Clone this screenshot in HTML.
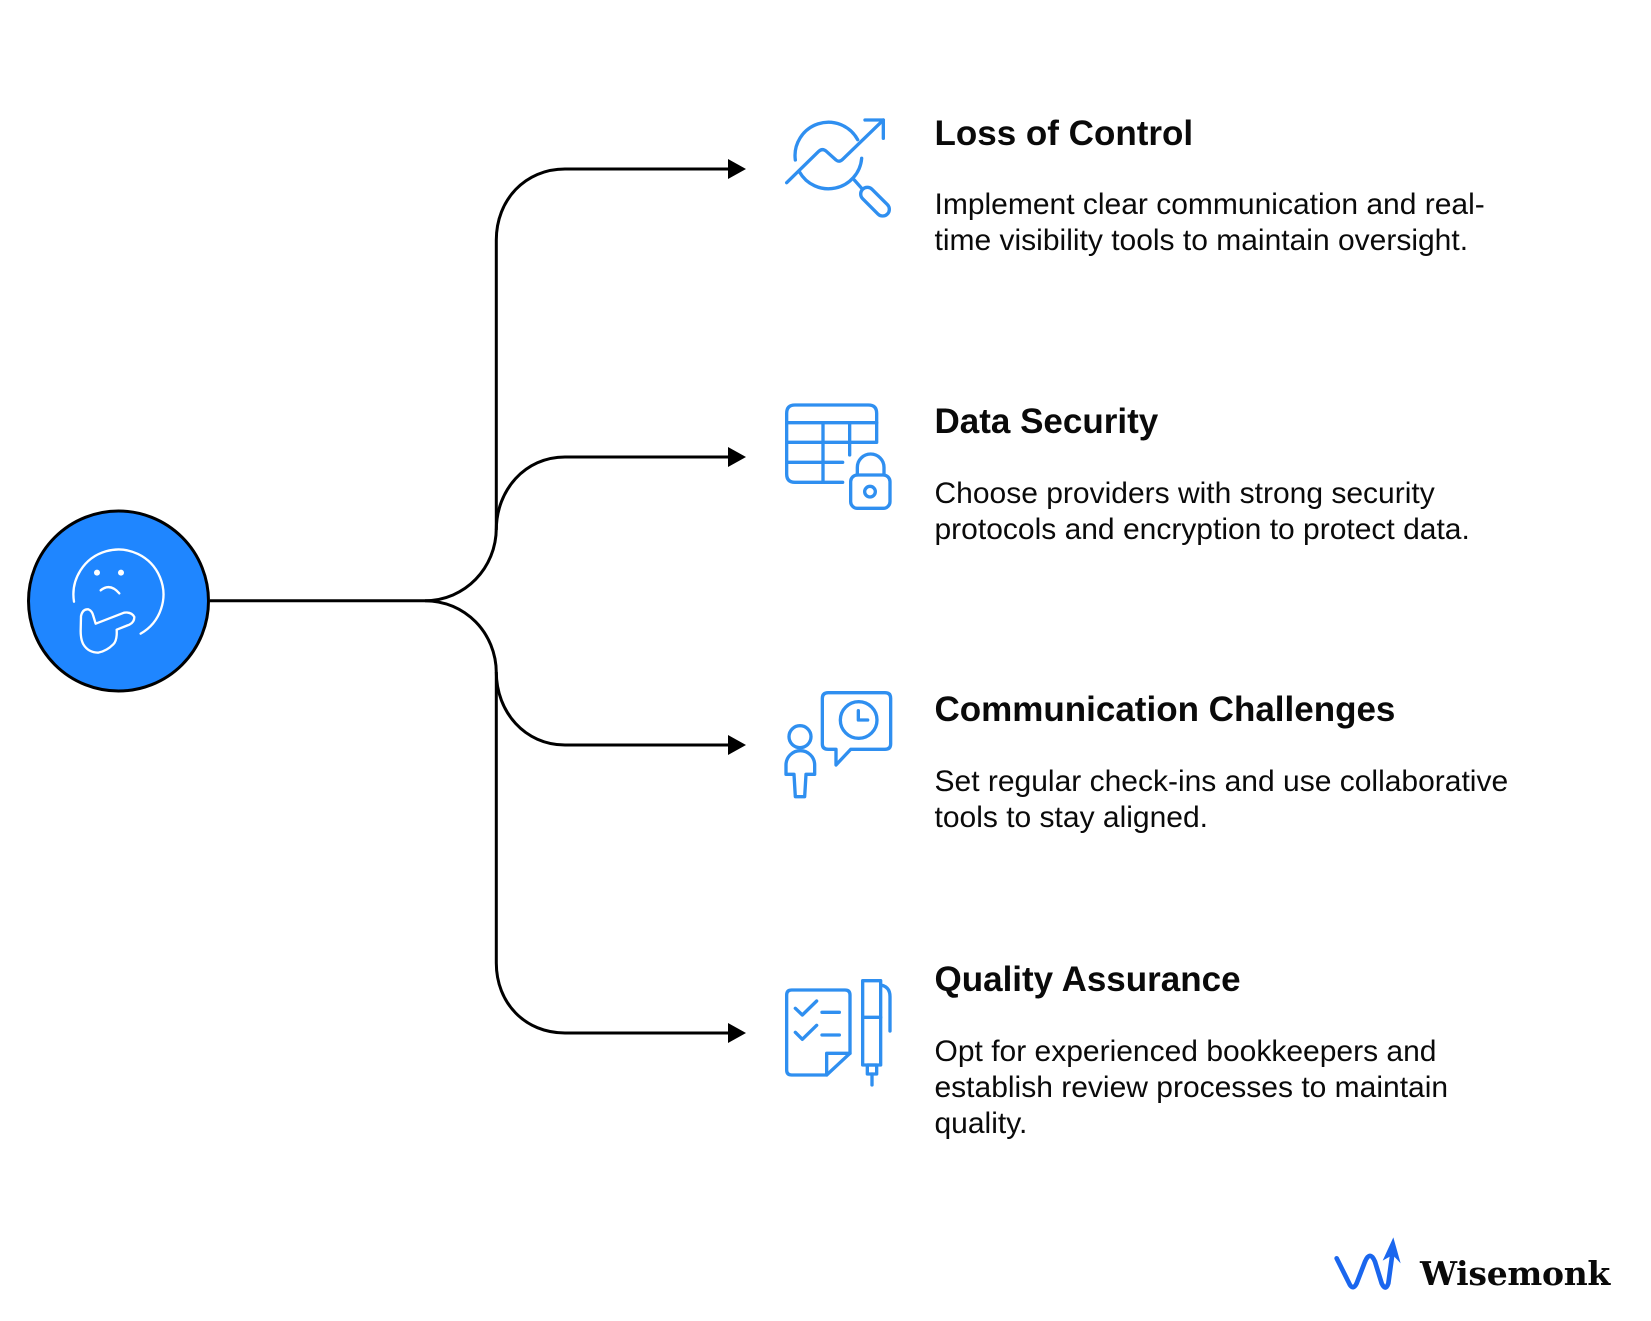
<!DOCTYPE html>
<html lang="en">
<head>
<meta charset="utf-8">
<style>
html,body{margin:0;padding:0;background:#fff}
#p{position:relative;width:1651px;height:1321px;overflow:hidden;background:#fff;font-family:"Liberation Sans",Arial,sans-serif;color:#0a0a0a}
svg{position:absolute;left:0;top:0}
.t{position:absolute;left:934.5px;font-weight:700;font-size:35px;line-height:40px;white-space:nowrap}
.b{position:absolute;left:934.5px;font-size:30px;line-height:36px;white-space:nowrap}
.w{position:absolute;left:1420px;top:1252px;font-family:"DejaVu Serif",serif;font-weight:700;font-size:33px;letter-spacing:-.3px;line-height:44px;white-space:nowrap}
</style>
</head>
<body>
<div id="p">
<svg width="1651" height="1321" viewBox="0 0 1651 1321" fill="none">
  <g stroke="#000" stroke-width="3" fill="none">
    <path d="M210 600.7H425C465 600.7 496.300 568 496.300 528V240C496.300 200 525 169 565 169H730"/>
    <path d="M496.300 530C496.300 490 525 457 565 457H730"/>
    <path d="M425 600.700C465 600.700 496.300 633 496.300 673V963C496.300 1003 525 1033 565 1033H730"/>
    <path d="M496.300 672C496.300 712 525 745 565 745H730"/>
  </g>
  <g fill="#000">
    <path d="M728 159L746 169L728 179Z"/>
    <path d="M728 447L746 457L728 467Z"/>
    <path d="M728 735L746 745L728 755Z"/>
    <path d="M728 1023L746 1033L728 1043Z"/>
  </g>
  <circle cx="118.500" cy="601" r="90" fill="#1f86ff" stroke="#000" stroke-width="3"/>
  <g transform="translate(0,481) scale(.33333)" fill="none" stroke="#fff" stroke-width="7" stroke-linecap="round" stroke-linejoin="round">
    <path d="M222 362A135 135 0 1 1 422 458"/>
    <path d="M302 328Q330 305 358 337"/>
    <circle cx="291" cy="275" r="9" fill="#fff" stroke="none"/>
    <circle cx="363" cy="275" r="9" fill="#fff" stroke="none"/>
    <path d="M243 405Q248 383 265 385Q277 390 280 405L287 428L372 395Q395 392 403 408Q403 424 388 431L350 446Q352 478 340 490Q320 510 295 515Q265 515 250 490Q242 475 242 450Z"/>
  </g>
  <g fill="none" stroke="#2f8ff0" stroke-width="10" stroke-linecap="round" stroke-linejoin="round">
    <g transform="translate(760,90) scale(.33333)">
      <path d="M106 210A100 100 0 0 1 293 149"/>
      <path d="M305 205A100 100 0 0 1 118 245"/>
      <path d="M80 278L175 185Q187 173 199 184L228 210Q238 218 248 208L370 90"/>
      <path d="M315 90H370V145"/>
      <path d="M283 270L305 295"/>
      <rect x="292.500" y="315" width="105" height="40" rx="20" transform="rotate(45 345 335)"/>
    </g>
    <g transform="translate(760,390) scale(.33333)">
      <path d="M248 277H105Q80 277 80 252V70Q80 45 105 45H325Q350 45 350 70V157H80"/>
      <path d="M80 98H350M80 217H248M189 98V277M269 98V195"/>
      <rect x="272" y="255" width="118" height="100" rx="20"/>
      <path d="M292 255V232A40 40 0 0 1 372 232V255"/>
      <circle cx="330" cy="305" r="16"/>
    </g>
    <g transform="translate(760,680) scale(.33333)">
      <path d="M205 38H375Q392 38 392 55V192Q392 208 375 208H272L228 255V208H205Q187 208 187 192V55Q187 38 205 38Z"/>
      <circle cx="296" cy="120" r="55"/>
      <path d="M295 92V120H323"/>
      <circle cx="120" cy="170" r="33"/>
      <path d="M78 283V255A42 42 0 0 1 164 255V283H138L134 350H106L102 283Z"/>
    </g>
    <g transform="translate(760,970) scale(.33333)">
      <path d="M200 315H95Q80 315 80 300V75Q80 60 95 60H255Q270 60 270 75V250L200 315Z"/>
      <path d="M270 250H200V315"/>
      <path d="M106 115L127 135L170 93M106 187L127 208L170 166"/>
      <path d="M186 127H238M186 195H238"/>
      <rect x="308" y="32" width="54" height="253"/>
      <path d="M308 142H362"/>
      <rect x="322" y="285" width="28" height="27"/>
      <path d="M336 312V345"/>
      <path d="M362 45Q390 50 390 80V183"/>
    </g>
  </g>
  <g transform="translate(1320,1220) scale(.33333)">
    <path d="M50 115Q75 165 90 195Q100 210 110 190L135 125Q150 90 165 125L185 190Q197 215 205 190L218 95" fill="none" stroke="#1a66ee" stroke-width="14" stroke-linecap="round" stroke-linejoin="round"/>
    <path d="M220 52L242 130L218 105L188 122Z" fill="#1a66ee"/>
  </g>
</svg>

<div class="t" style="top:114px">Loss of Control</div>
<div class="b" style="top:187px">Implement clear communication and real-<br>time visibility tools to maintain oversight.</div>

<div class="t" style="top:401.500px">Data Security</div>
<div class="b" style="top:476px">Choose providers with strong security<br>protocols and encryption to protect data.</div>

<div class="t" style="top:690px">Communication Challenges</div>
<div class="b" style="top:764px">Set regular check-ins and use collaborative<br>tools to stay aligned.</div>

<div class="t" style="top:960px">Quality Assurance</div>
<div class="b" style="top:1034px">Opt for experienced bookkeepers and<br>establish review processes to maintain<br>quality.</div>

<div class="w">Wisemonk</div>
</div>
</body>
</html>
